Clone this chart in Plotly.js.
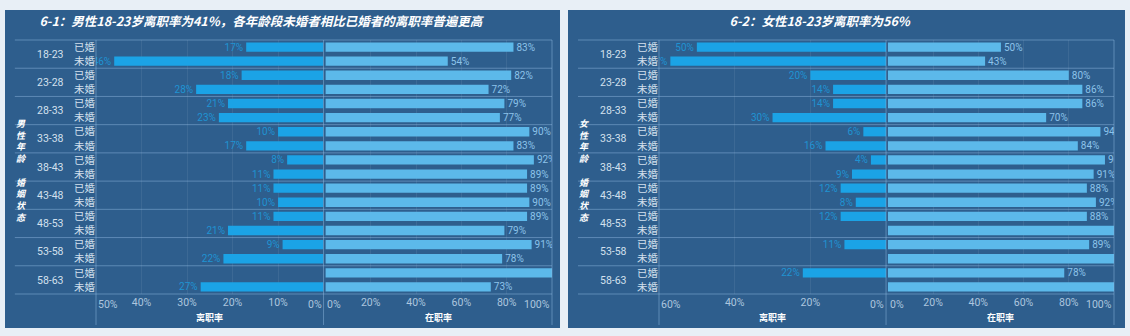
<!DOCTYPE html>
<html><head><meta charset="utf-8">
<script src="https://cdn.plot.ly/plotly-3.0.1.min.js"></script>
<style>
html,body{margin:0;padding:0;background:#e8eff6;width:1130px;height:336px;overflow:hidden}
#c1{position:absolute;left:5px;top:10px;width:555px;height:318px}
#c2{position:absolute;left:568px;top:10px;width:557px;height:318px}
</style></head><body>
<div id="c1"></div><div id="c2"></div>
<script>
// ---- data ----
const ages = ['18-23','23-28','28-33','33-38','38-43','43-48','48-53','53-58','58-63'];
const statuses = ['已婚','未婚'];
const maleLeave = [17,46,18,28,21,23,10,17,8,11,11,10,11,21,9,22,0,27];
const maleStay  = [83,54,82,72,79,77,90,83,92,89,89,90,89,79,91,78,100,73];
const femaleLeave = [50,57,20,14,14,30,6,16,4,9,12,8,12,0,11,0,22,0];
const femaleStay  = [50,43,80,86,86,70,94,84,96,91,88,92,88,100,89,100,78,100];
const maleTitle = '6-1：男性18-23岁离职率为41%，各年龄段未婚者相比已婚者的离职率普遍更高';
const femaleTitle = '6-2：女性18-23岁离职率为56%';
const maleYTitle = '男性年龄 婚姻状态';
const femaleYTitle = '女性年龄 婚姻状态';
const leaveAxisTitle = '离职率';
const stayAxisTitle = '在职率';

const FONT = "Roboto, 'Noto Sans CJK SC', sans-serif";
const CJK = "'Noto Sans CJK SC', sans-serif";
const PANEL = '#2e5e8d';
const LINE = 'rgba(150,190,230,0.45)';

function build(div, title, titleX, yTitle, leave, stay, leaveMax, leaveTicks) {
  const ageCol = [], statCol = [];
  ages.forEach(a => statuses.forEach(s => { ageCol.push(a); statCol.push(s); }));
  const y = [ageCol, statCol];
  const traces = [
    {type:'bar', orientation:'h', x: leave, y: y, xaxis:'x', yaxis:'y',
     marker:{color:'#1ba3e6'}, width:0.66,
     text: leave.map(v => v + '%'), textposition:'outside', constraintext:'none',
     textfont:{color:'#1f93d2', size:10, family:FONT}, cliponaxis:true, hoverinfo:'skip'},
    {type:'bar', orientation:'h', x: stay, y: y, xaxis:'x2', yaxis:'y',
     marker:{color:'#5cb9ea'}, width:0.66,
     text: stay.map(v => v + '%'), textposition:'outside', constraintext:'none',
     textfont:{color:'#8cc3ea', size:10, family:FONT}, cliponaxis:true, hoverinfo:'skip'}
  ];
  const shapes = [];
  const nG = ages.length;
  for (let k = 0; k <= nG; k++) {
    shapes.push({type:'line', xref:'paper', yref:'paper', x0:-0.178, x1:1, y0:1 - k/nG, y1:1 - k/nG,
      line:{color:LINE, width:1}});
  }
  [0, 0.499, 1].forEach(xv => shapes.push({type:'line', xref:'paper', yref:'paper', x0:xv, x1:xv, y0:1, y1:-0.122,
      line:{color:LINE, width:1}}));
  const tickColor = '#adc6df';
  const ann = [
    {xref:'x', yref:'paper', x:leaveMax, y:0, yshift:-10, xanchor:'left', yanchor:'middle', text: leaveMax + '%', showarrow:false, font:{color:tickColor, size:10.5, family:FONT}},
    {xref:'x', yref:'paper', x:0, y:0, yshift:-10, xanchor:'right', yanchor:'middle', text:'0%', showarrow:false, font:{color:tickColor, size:10.5, family:FONT}},
    {xref:'x2', yref:'paper', x:0, y:0, yshift:-10, xanchor:'left', yanchor:'middle', text:'0%', showarrow:false, font:{color:tickColor, size:10.5, family:FONT}},
    {xref:'x2', yref:'paper', x:100, y:0, yshift:-10, xanchor:'right', yanchor:'middle', text:'100%', showarrow:false, font:{color:tickColor, size:10.5, family:FONT}},
    {xref:'x domain', yref:'paper', x:0.5, y:0, yshift:-23, xanchor:'center', yanchor:'middle', text:'<b>' + leaveAxisTitle + '</b>', showarrow:false, font:{color:'#ffffff', size:9, family:CJK}},
    {xref:'x2 domain', yref:'paper', x:0.5, y:0, yshift:-23, xanchor:'center', yanchor:'middle', text:'<b>' + stayAxisTitle + '</b>', showarrow:false, font:{color:'#ffffff', size:9, family:CJK}},
    {xref:'paper', yref:'paper', x:-0.163, y:0.485, xanchor:'center', yanchor:'middle',
     text:'<b><i>' + yTitle.split('').map(c => c === ' ' ? '' : c).join('<br>') + '</i></b>', showarrow:false,
     font:{color:'#ffffff', size:9, family:CJK}}
  ];
  const layout = {
    width: div === 'c1' ? 555 : 557, height: 318,
    paper_bgcolor: PANEL, plot_bgcolor: PANEL,
    margin: {l:91, r: div === 'c1' ? 8 : 11, t:30, b:34},
    font: {family: FONT, color: tickColor},
    showlegend: false, barmode: 'overlay',
    title: {text: '<b><i>' + title + '</i></b>', x:titleX, xanchor:'center', y:0.963, yanchor:'middle',
            font:{family:CJK, size:12.5, color:'#ffffff'}},
    xaxis: {domain:[0,0.499], range:[leaveMax,0], tickvals: leaveTicks, ticktext: leaveTicks.map(v => v + '%'),
            showgrid:true, gridcolor:'rgba(255,255,255,0.07)', zeroline:false, showline:false, ticks:'',
            tickfont:{color:tickColor, size:10.5}, fixedrange:true},
    xaxis2: {domain:[0.503,1], range:[0,100], tickvals:[20,40,60,80], ticktext:['20%','40%','60%','80%'],
            showgrid:true, gridcolor:'rgba(255,255,255,0.07)', zeroline:false, showline:false, ticks:'',
            tickfont:{color:tickColor, size:10.5}, anchor:'y', fixedrange:true},
    yaxis: {type:'multicategory', autorange:'reversed', showdividers:false, ticks:'', showgrid:false,
            showline:false, zeroline:false, tickfont:{color:'#d3e0ee', size:10.5}, anchor:'x', fixedrange:true},
    shapes: shapes, annotations: ann
  };
  Plotly.newPlot(div, traces, layout, {displayModeBar:false, staticPlot:true});
}
build('c1', maleTitle, 0.461, maleYTitle, maleLeave, maleStay, 50, [10,20,30,40]);
build('c2', femaleTitle, 0.452, femaleYTitle, femaleLeave, femaleStay, 60, [20,40]);
</script>
</body></html>
